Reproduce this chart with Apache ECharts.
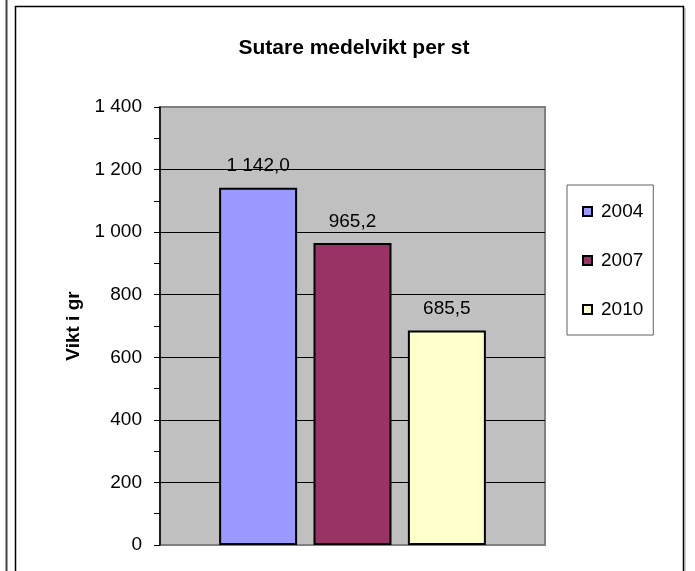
<!DOCTYPE html>
<html>
<head>
<meta charset="utf-8">
<script src="https://cdn.jsdelivr.net/npm/echarts@6/dist/echarts.min.js"></script>
<style>
html,body{margin:0;padding:0;background:#fff;}
#chart{width:695px;height:571px;}
</style>
</head>
<body>
<div id="chart"></div>
<script>
var title = 'Sutare medelvikt per st';
var yAxisName = 'Vikt i gr';
var categories = [''];
var seriesNames = ['2004', '2007', '2010'];
var values2004 = [1142.0];
var values2007 = [965.2];
var values2010 = [685.5];
var seriesValues = [values2004, values2007, values2010];
var seriesColors = ['#9999ff', '#993366', '#ffffcc'];

function fmtThousands(v, dec) {
  var s = v.toFixed(dec);
  var parts = s.split('.');
  var ip = parts[0].replace(/\B(?=(\d{3})+(?!\d))/g, ' ');
  return parts.length > 1 ? ip + ',' + parts[1] : ip;
}

var font = '"Liberation Sans", Arial, sans-serif';

var series = seriesNames.map(function (name, i) {
  return {
    name: name,
    type: 'bar',
    data: seriesValues[i],
    barWidth: 78,
    barGap: '21%',
    itemStyle: { color: seriesColors[i], borderColor: '#000', borderWidth: 2 },
    label: {
      show: true,
      position: 'top',
      distance: 12,
      color: '#000',
      fontFamily: font,
      fontSize: 19,
      formatter: function (p) { return fmtThousands(p.value, 1); }
    }
  };
});

var chart = echarts.init(document.getElementById('chart'));
chart.setOption({
  animation: false,
  backgroundColor: '#fff',
  title: {
    text: title,
    left: 349,
    textAlign: 'center',
    top: 33,
    textStyle: { fontFamily: font, fontSize: 21, fontWeight: 'bold', color: '#000' }
  },
  legend: {
    orient: 'vertical',
    left: 567,
    top: 185,
    padding: [17, 10, 16, 15],
    itemGap: 30,
    itemWidth: 9,
    itemHeight: 9,
    icon: 'rect',
    borderColor: '#606060',
    borderWidth: 1,
    itemStyle: { borderColor: '#000', borderWidth: 2 },
    textStyle: { fontFamily: font, fontSize: 19, color: '#000', padding: [0, 0, 0, 4] },
    data: seriesNames
  },
  grid: {
    left: 160, top: 107, right: 150, bottom: 26,
    show: true,
    backgroundColor: '#c0c0c0',
    borderColor: '#808080',
    borderWidth: 2
  },
  xAxis: {
    type: 'category',
    data: categories,
    axisLine: { show: false },
    axisTick: { show: false },
    axisLabel: { show: false }
  },
  yAxis: {
    type: 'value',
    min: 0,
    max: 1400,
    interval: 200,
    name: yAxisName,
    nameLocation: 'middle',
    nameGap: 60,
    nameTextStyle: { fontFamily: font, fontSize: 19, fontWeight: 'bold', color: '#000' },
    axisLine: { show: true, lineStyle: { color: '#000', width: 1.5 } },
    axisTick: { show: true, length: 6, lineStyle: { color: '#000', width: 1 } },
    minorTick: { show: true, splitNumber: 2, length: 6, lineStyle: { color: '#000', width: 1 } },
    axisLabel: {
      margin: 18,
      color: '#000',
      fontFamily: font,
      fontSize: 19,
      formatter: function (v) { return fmtThousands(v, 0); }
    },
    splitLine: { show: true, showMinLine: false, showMaxLine: false, lineStyle: { color: '#000', width: 1 } }
  },
  graphic: [
    { type: 'line', shape: { x1: 6.5, y1: 0, x2: 6.5, y2: 571 }, style: { stroke: '#444', lineWidth: 2 }, silent: true },
    { type: 'rect', shape: { x: 15.5, y: 6.5, width: 668, height: 620 }, style: { fill: null, stroke: '#000', lineWidth: 1.5 }, silent: true },
    { type: 'line', shape: { x1: 685, y1: 8, x2: 685, y2: 571 }, style: { stroke: '#999', lineWidth: 1 }, silent: true }
  ],
  series: series
});
</script>
</body>
</html>
